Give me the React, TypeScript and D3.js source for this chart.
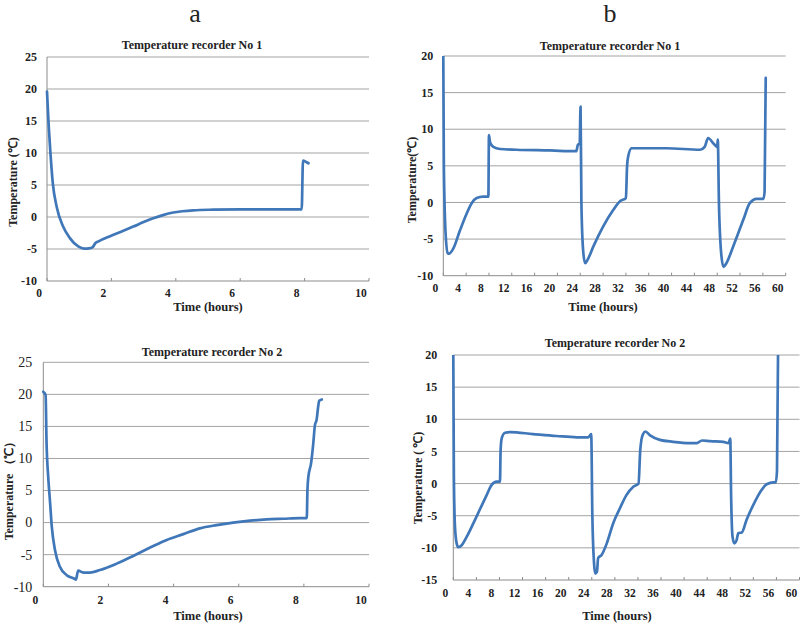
import * as d3 from 'd3';
import React from 'react';

// [time (hours), temperature (°C)]
const recorder1A: [number, number][] = [
  [0, 19.6], [0.05, 14.5], [0.1, 10.5], [0.18, 5.3], [0.3, 1.6], [0.5, -1.5], [0.71, -3.3],
  [0.97, -4.6], [1.15, -4.95], [1.3, -4.9], [1.42, -4.7], [1.5, -4.1], [1.6, -3.8], [1.96, -3.0],
  [2.3, -2.3], [2.68, -1.5], [3.0, -0.8], [3.3, -0.2], [3.6, 0.3], [3.92, 0.7], [4.2, 0.9],
  [4.54, 1.05], [5.17, 1.15], [6.0, 1.2], [7.0, 1.2], [7.91, 1.2], [7.95, 8.8], [8.05, 8.6], [8.12, 8.4],
];

const recorder1B: [number, number][] = [
  [0, 19.9], [0.1, 4.9], [0.4, -4.2], [0.77, -6.9], [1.0, -7.0], [1.75, -6.3], [2.93, -3.8],
  [4.1, -1.5], [4.97, -0.1], [5.85, 0.6], [7.0, 0.8], [7.9, 0.8], [8.0, 9.2], [8.2, 8.2],
  [8.76, 7.6], [9.93, 7.3], [12.8, 7.2], [18.7, 7.1], [23.3, 7.0], [23.6, 7.9], [23.9, 8.0],
  [24.05, 13.1], [24.2, 0], [24.5, -6.5], [24.85, -8.3], [25.3, -7.8], [26.3, -6.0], [28.0, -3.3],
  [29.8, -1.0], [31.0, 0.2], [32.0, 0.6], [32.2, 4.9], [32.4, 6.3], [33.0, 7.4], [39.1, 7.4],
  [45.0, 7.2], [45.8, 7.6], [46.4, 8.8], [47.3, 8.1], [48.0, 7.6], [48.1, 8.6], [48.3, 0],
  [48.7, -7.0], [49.1, -8.8], [49.6, -8.3], [50.8, -6.0], [52.6, -2.3], [53.7, -0.1], [54.9, 0.5],
  [56.1, 0.5], [56.3, 1.5], [56.5, 17.0],
];

const recorder2A: [number, number][] = [
  [0, 20.4], [0.07, 19.9], [0.1, 12.4], [0.15, 7.2], [0.21, 3.0], [0.26, -0.6], [0.36, -4.3],
  [0.51, -6.9], [0.72, -8.2], [0.97, -8.8], [1.0, -8.9], [1.07, -7.5], [1.23, -7.8], [1.43, -7.8],
  [1.74, -7.4], [2.25, -6.4], [2.76, -5.2], [3.28, -3.9], [3.79, -2.7], [4.3, -1.8], [4.81, -0.9],
  [5.32, -0.4], [5.83, 0.0], [6.35, 0.3], [6.86, 0.5], [7.37, 0.6], [7.88, 0.7], [8.09, 0.7],
  [8.11, 5.1], [8.14, 7.2], [8.22, 9.2], [8.29, 12.4], [8.34, 15.2], [8.39, 16.0], [8.44, 18.1],
  [8.47, 19.0], [8.55, 19.2],
];

const recorder2B: [number, number][] = [
  [0, 20], [0.1, 1.1], [0.29, -6.7], [0.58, -9.3], [0.87, -9.9], [1.45, -9.6], [2.31, -8.3],
  [3.47, -6.2], [4.62, -4.0], [5.78, -1.8], [6.65, -0.2], [7.52, 0.3], [8.09, 0.3], [8.2, 5.2],
  [8.38, 7.0], [8.96, 7.9], [9.83, 8.0], [13.8, 7.7], [17.9, 7.4], [21.4, 7.2], [23.4, 7.2],
  [23.9, 7.7], [24.1, -5], [24.4, -12.5], [24.6, -14.0], [24.9, -13.7], [25.1, -11.6], [25.7, -11.1],
  [26.6, -9.3], [27.7, -6.2], [28.9, -3.8], [30.0, -1.8], [31.2, -0.5], [32.1, 0.0], [32.4, 5.2],
  [32.6, 6.8], [32.9, 7.7], [33.3, 8.1], [34.1, 7.5], [35.8, 6.8], [38.1, 6.5], [41.0, 6.3],
  [42.2, 6.3], [43.1, 6.7], [44.5, 6.6], [46.8, 6.5], [47.7, 6.3], [48.0, 7.0], [48.15, -2],
  [48.4, -8.3], [48.7, -9.3], [49.1, -8.8], [49.4, -7.7], [50.0, -7.6], [50.8, -5.7], [52.0, -3.3],
  [53.2, -1.3], [54.3, -0.1], [55.5, 0.2], [55.9, 0.2], [56.1, 2], [56.3, 22],
];

const xTicksA = [0, 2, 4, 6, 8, 10];
const xTicksB = [0, 4, 8, 12, 16, 20, 24, 28, 32, 36, 40, 44, 48, 52, 56, 60];
const yTicksA = [-10, -5, 0, 5, 10, 15, 20, 25];
const yTicksB1 = [-10, -5, 0, 5, 10, 15, 20];
const yTicksB2 = [-15, -10, -5, 0, 5, 10, 15, 20];

const panelTitles = ['Temperature recorder No 1', 'Temperature recorder No 1', 'Temperature recorder No 2', 'Temperature recorder No 2'];
const yTitles = ['Temperature (\u2103)', 'Temperature(\u2103)', 'Temperature \uFF08\u2103\uFF09', 'Temperature ( \u2103)'];
const xTitle = 'Time (hours)';

const serif = '"Liberation Serif", "Times New Roman", serif';
const lineColor = '#4077b8';
const gridColor = '#a3a3a3';

const panels = [
  { id: 'a1', data: recorder1A, xTicks: xTicksA, yTicks: yTicksA, title: panelTitles[0], yTitle: yTitles[0],
    left: 47, right: 369, top: 57, bottom: 281, titleX: 192, titleY: 49, yTitleX: 13, yTitleY: 182,
    xTitleX: 208, xTitleY: 311, xLabelY: 297, yGap: 10, yBold: true, ySize: 12 },
  { id: 'b1', data: recorder1B, xTicks: xTicksB, yTicks: yTicksB1, title: panelTitles[1], yTitle: yTitles[1],
    left: 443.3, right: 785.7, top: 56, bottom: 275.7, titleX: 610, titleY: 50, yTitleX: 412, yTitleY: 180,
    xTitleX: 603, xTitleY: 311, xLabelY: 292, yGap: 10, yBold: true, ySize: 12 },
  { id: 'a2', data: recorder2A, xTicks: xTicksA, yTicks: yTicksA, title: panelTitles[2], yTitle: yTitles[2],
    left: 43.3, right: 369, top: 362.3, bottom: 586.7, titleX: 212, titleY: 356, yTitleX: 9, yTitleY: 488,
    xTitleX: 208, xTitleY: 620, xLabelY: 604, yGap: 11, yBold: false, ySize: 14 },
  { id: 'b2', data: recorder2B, xTicks: xTicksB, yTicks: yTicksB2, title: panelTitles[3], yTitle: yTitles[3],
    left: 453.3, right: 799.5, top: 355, bottom: 580, titleX: 615, titleY: 347, yTitleX: 418, yTitleY: 478,
    xTitleX: 617, xTitleY: 620, xLabelY: 597, yGap: 16, yBold: true, ySize: 12 },
];

type PanelProps = (typeof panels)[number];

const Panel = (p: PanelProps) => {
  const xScale = d3.scaleLinear()
    .domain(d3.extent(p.xTicks) as [number, number])
    .range([p.left, p.right]);
  const yScale = d3.scaleLinear()
    .domain(d3.extent(p.yTicks) as [number, number])
    .range([p.bottom, p.top]);

  const line = d3.line<[number, number]>()
    .x(d => xScale(d[0]))
    .y(d => yScale(d[1]))
    .curve(d3.curveMonotoneX);

  return (
    <g>
      <defs>
        <clipPath id={`clip-${p.id}`}>
          <rect x={p.left - 3} y={p.top} width={p.right - p.left + 6} height={p.bottom - p.top + 6} />
        </clipPath>
      </defs>

      {/* gridlines */}
      {p.yTicks.map(t => (
        <line key={t} x1={p.left} x2={p.right} y1={yScale(t)} y2={yScale(t)}
          stroke={t === p.yTicks[0] ? '#8c8c8c' : gridColor} strokeWidth={1} />
      ))}
      <line x1={p.left} x2={p.left} y1={p.top} y2={p.bottom} stroke="#8c8c8c" strokeWidth={1} />

      {/* x ticks, labels sit a little left of the tick like in the scan */}
      {p.xTicks.map(t => (
        <g key={t}>
          <line x1={xScale(t)} x2={xScale(t)} y1={p.bottom} y2={p.bottom - 3} stroke="#8c8c8c" />
          <text x={xScale(t) - 8} y={p.xLabelY} textAnchor="middle" fontFamily={serif}
            fontWeight="bold" fontSize={11.5} fill="#222">{t}</text>
        </g>
      ))}

      {p.yTicks.map(t => (
        <text key={t} x={p.left - p.yGap} y={yScale(t)} dy="0.35em" textAnchor="end" fontFamily={serif}
          fontWeight={p.yBold ? 'bold' : 'normal'} fontSize={p.ySize} fill="#222">{t}</text>
      ))}

      <path d={line(p.data) ?? ''} fill="none" stroke={lineColor} strokeWidth={2.7}
        strokeLinejoin="round" strokeLinecap="round" clipPath={`url(#clip-${p.id})`} />

      <text x={p.titleX} y={p.titleY} textAnchor="middle" fontFamily={serif} fontWeight="bold"
        fontSize={12} fill="#222">{p.title}</text>
      <text x={p.xTitleX} y={p.xTitleY} textAnchor="middle" fontFamily={serif} fontWeight="bold"
        fontSize={12.5} fill="#222">{xTitle}</text>
      <text transform={`translate(${p.yTitleX},${p.yTitleY}) rotate(-90)`} textAnchor="middle"
        dy="0.35em" fontFamily={serif} fontWeight="bold" fontSize={12} fill="#222">{p.yTitle}</text>
    </g>
  );
};

const App = () => (
  <svg width={800} height={624} style={{ position: 'absolute', left: 0, top: 0, background: '#fff' }}>
    <rect width={800} height={624} fill="#fff" />
    <text x={195} y={22} textAnchor="middle" fontFamily={serif} fontSize={26} fill="#222">a</text>
    <text x={610} y={22} textAnchor="middle" fontFamily={serif} fontSize={26} fill="#222">b</text>
    {panels.map(p => <Panel key={p.id} {...p} />)}
  </svg>
);

export default App;
